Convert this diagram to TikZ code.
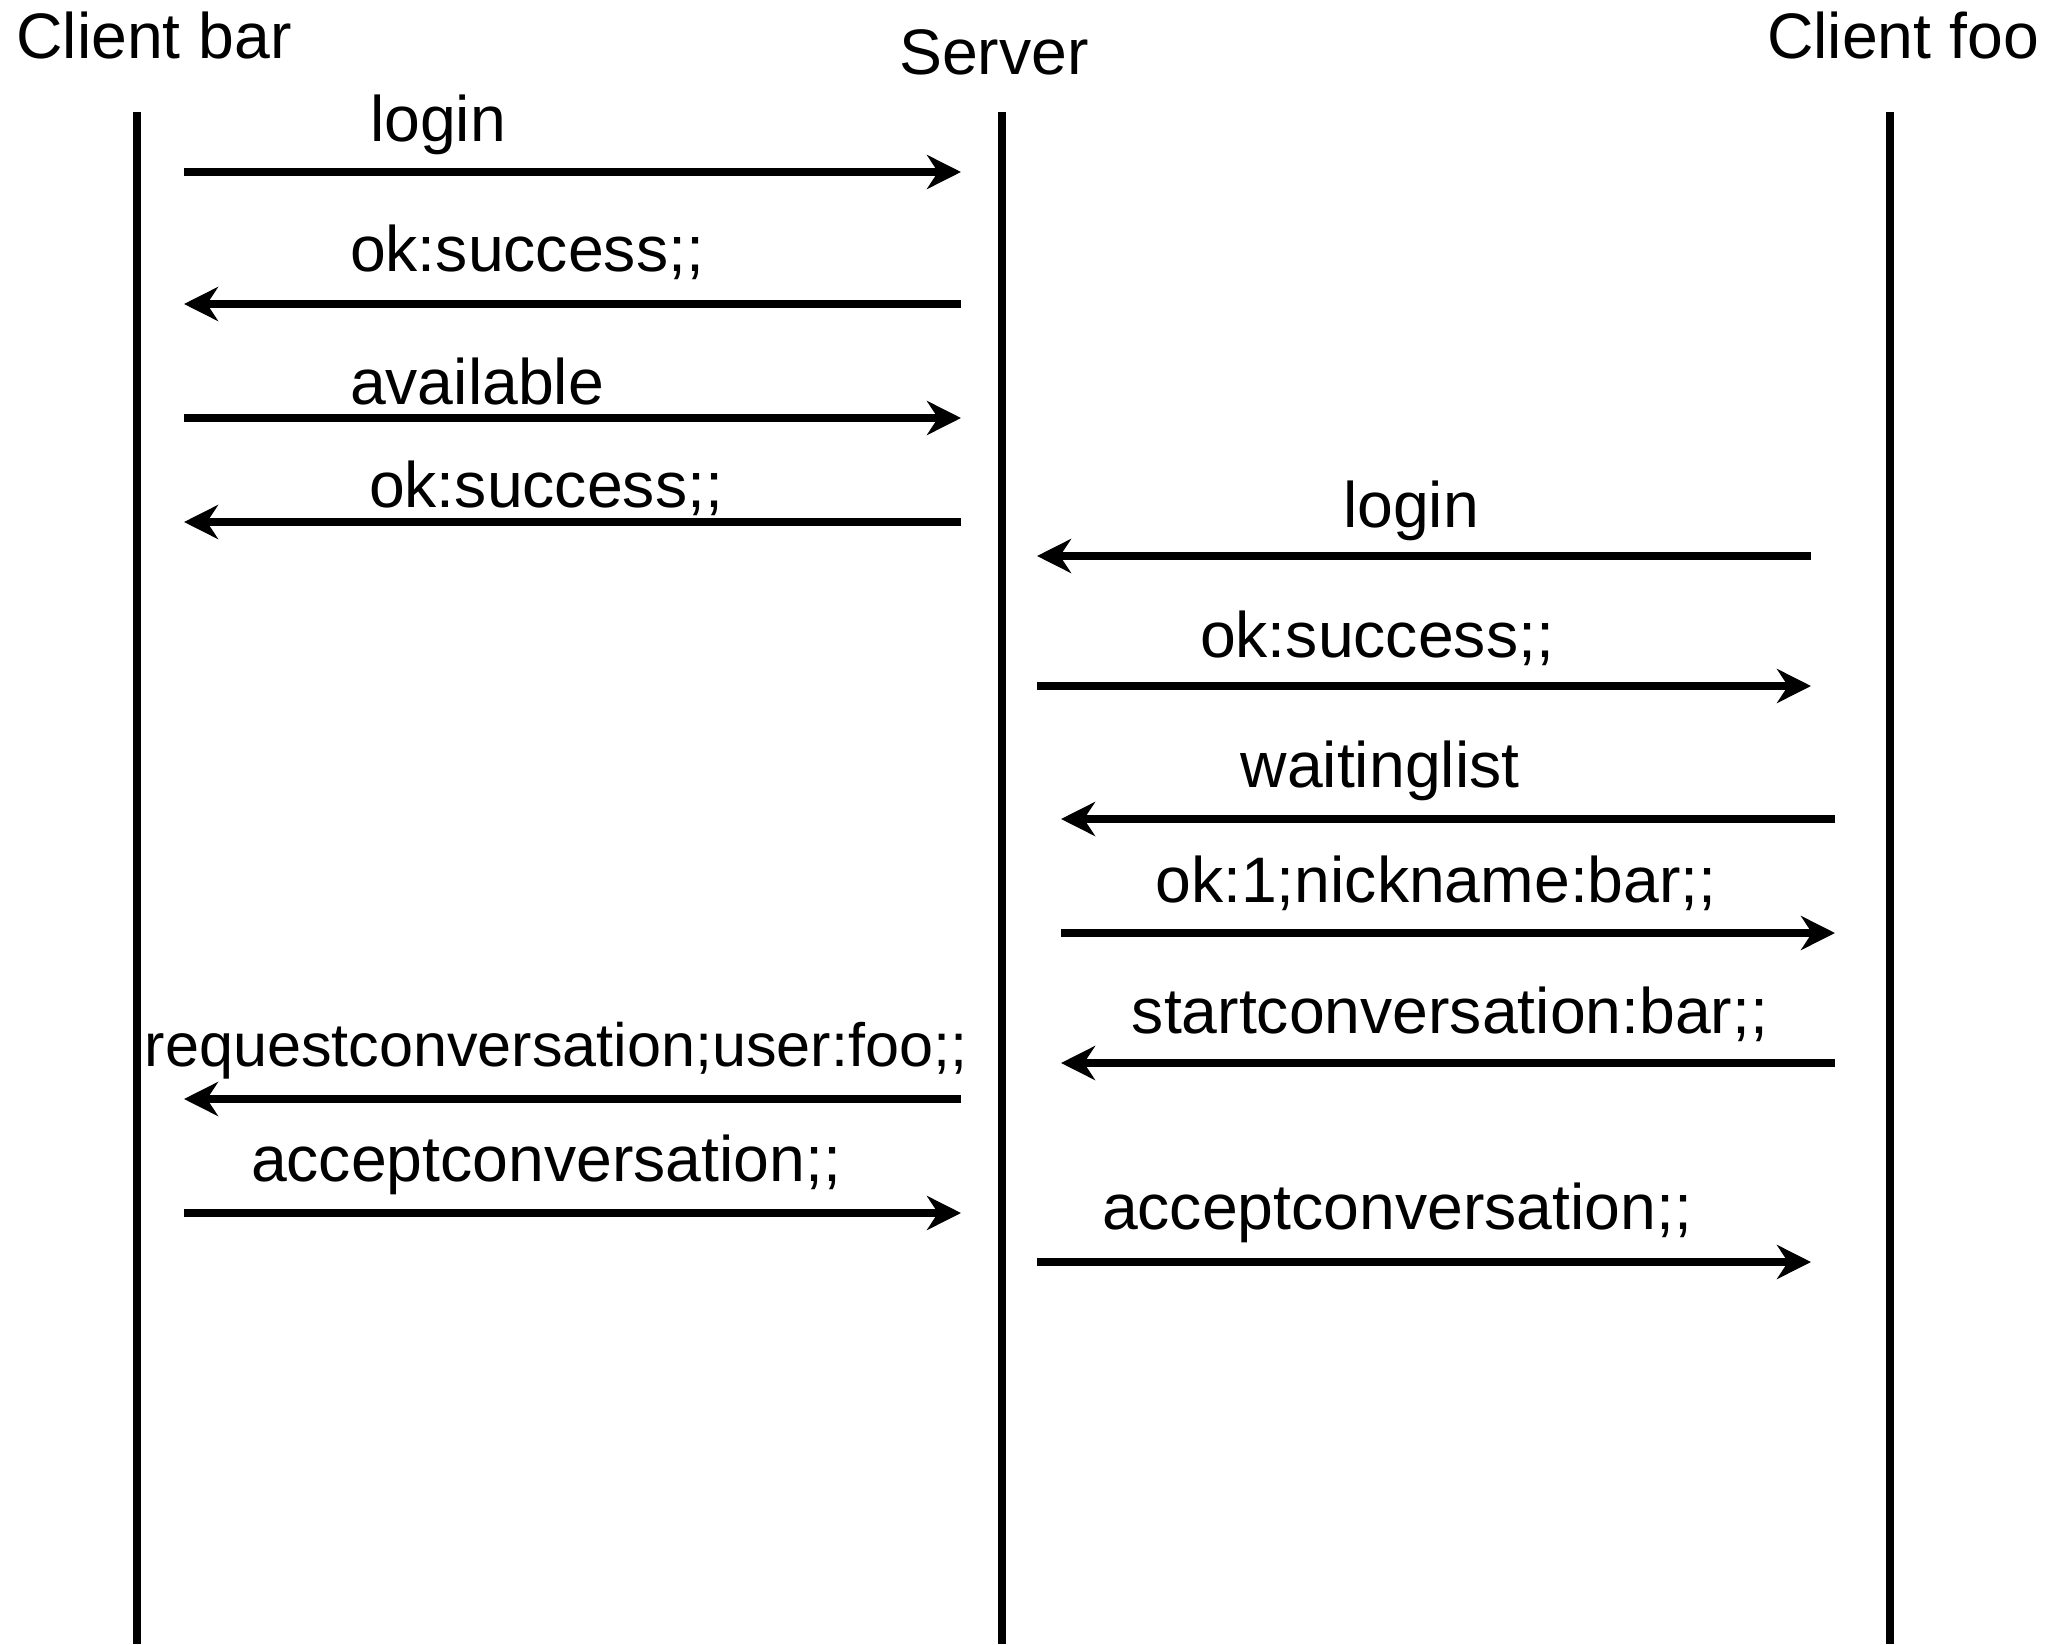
\documentclass[tikz,border=0pt]{standalone}
\usepackage{fontspec}
\setmainfont{Liberation Sans}
\usetikzlibrary{arrows.meta}
\definecolor{ink}{HTML}{000000}
\tikzset{
  lifeline/.style={draw=ink, line width=2.3pt},
  msg/.style={-{Stealth[length=0.34cm,width=0.34cm,inset=0.11cm]}, draw=ink, line width=2.3pt},
  msglabel/.style={anchor=base, text=ink, inner sep=0pt, font=\fontsize{18.3}{21}\selectfont},
  actor/.style={msglabel}
}
\newcommand{\msgarrow}[4]{%
  \coordinate (#1-a) at (#3,#2);
  \coordinate (#1-b) at (#4,#2);
  \draw[msg] (#1-a) -- (#1-b);
}

\begin{document}
\begin{tikzpicture}[x=1cm,y=1cm]
  \useasboundingbox (0,0) rectangle (20.61,16.44);

  % Actors and lifelines.
  \node[actor] (bar) at (1.54,15.85) {Client bar};
  \node[actor] (server) at (9.94,15.69) {Server};
  \node[actor] (foo) at (19.03,15.85) {Client foo};

  \coordinate (bartop) at (1.37,15.32);
  \coordinate (barbot) at (1.37,0);
  \coordinate (servertop) at (10.02,15.32);
  \coordinate (serverbot) at (10.02,0);
  \coordinate (footop) at (18.90,15.32);
  \coordinate (foobot) at (18.90,0);
  \draw[lifeline] (bartop) -- (barbot);
  \draw[lifeline] (servertop) -- (serverbot);
  \draw[lifeline] (footop) -- (foobot);

  % Client bar <-> server.
  \msgarrow{loginbar}{14.72}{1.84}{9.61}
  \node[msglabel] (loginbarlbl) at (4.38,15.02) {login};
  \msgarrow{okbar}{13.40}{9.61}{1.84}
  \node[msglabel] (okbarlbl) at (5.27,13.72) {ok:success;;};
  \msgarrow{avail}{12.26}{1.84}{9.61}
  \node[msglabel] (availlbl) at (4.77,12.40) {available};
  \msgarrow{okavail}{11.22}{9.61}{1.84}
  \node[msglabel] (okavaillbl) at (5.46,11.37) {ok:success;;};

  % Client foo <-> server.
  \msgarrow{loginfoo}{10.88}{18.11}{10.37}
  \node[msglabel] (loginfoolbl) at (14.11,11.17) {login};
  \msgarrow{okfoo}{9.58}{10.37}{18.11}
  \node[msglabel] (okfoolbl) at (13.77,9.87) {ok:success;;};
  \msgarrow{wait}{8.25}{18.35}{10.61}
  \node[msglabel] (waitlbl) at (13.80,8.57) {waitinglist};
  \msgarrow{okwait}{7.11}{10.61}{18.35}
  \node[msglabel] (okwaitlbl) at (14.36,7.42) {ok:1;nickname:bar;;};
  \msgarrow{start}{5.81}{18.35}{10.61}
  \node[msglabel] (startlbl) at (14.50,6.11) {startconversation:bar;;};

  % Conversation handshake.
  \msgarrow{request}{5.45}{9.61}{1.84}
  \node[msglabel, font=\fontsize{17.4}{20}\selectfont] (requestlbl) at (5.56,5.78)
    {requestconversation;user:foo;;};
  \msgarrow{acceptbar}{4.31}{1.84}{9.61}
  \node[msglabel] (acceptbarlbl) at (5.46,4.63) {acceptconversation;;};
  \msgarrow{acceptfoo}{3.82}{10.37}{18.11}
  \node[msglabel] (acceptfoolbl) at (13.97,4.15) {acceptconversation;;};

\end{tikzpicture}
\end{document}
